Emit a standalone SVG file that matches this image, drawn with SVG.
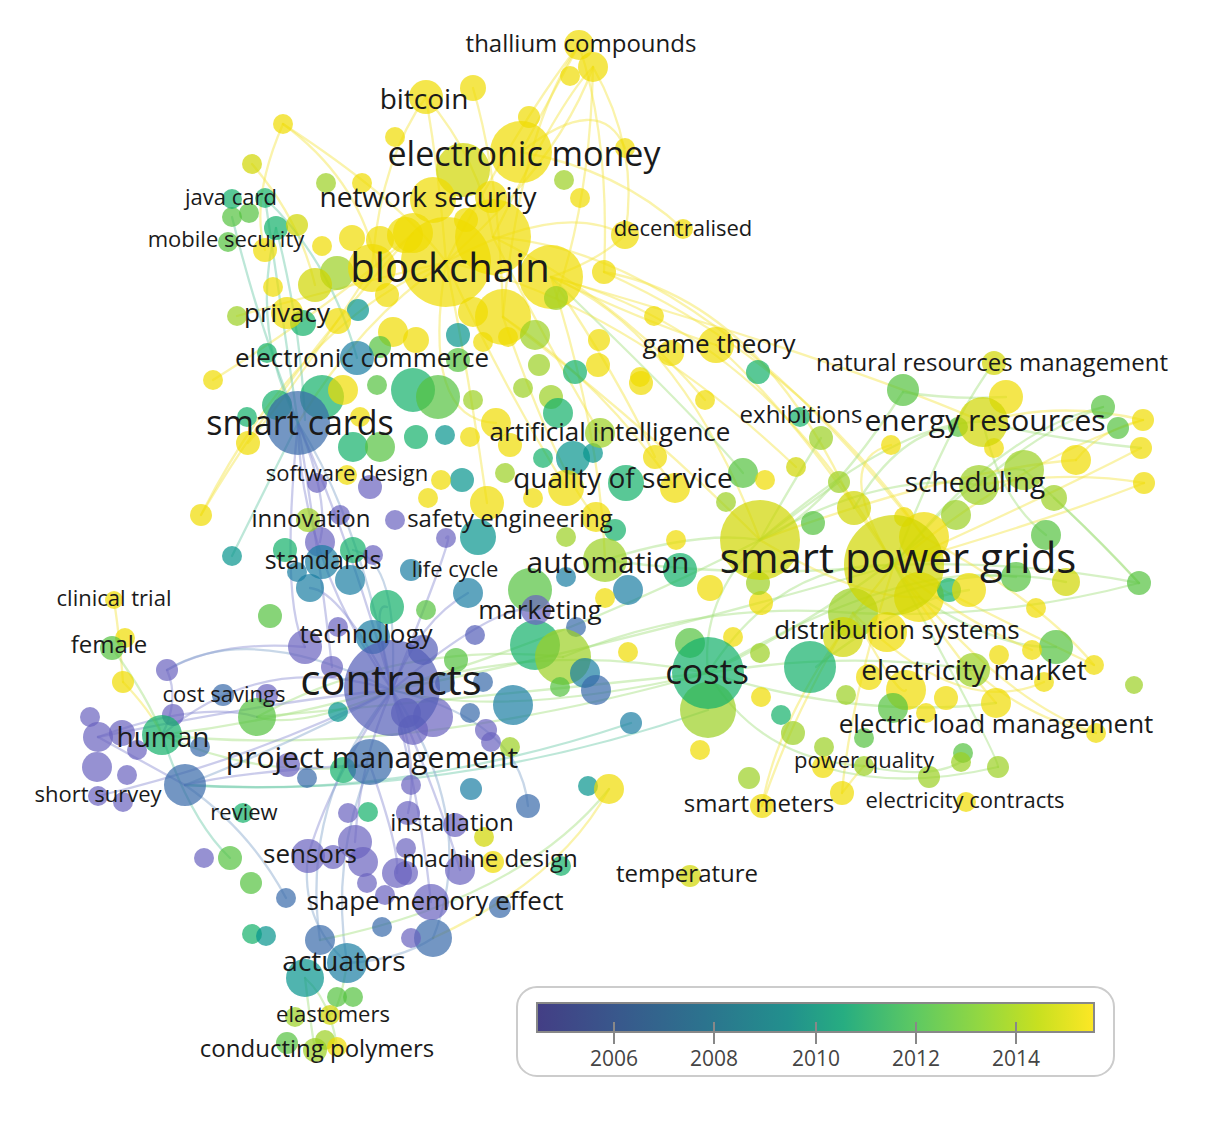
<svg xmlns="http://www.w3.org/2000/svg" width="1208" height="1136" viewBox="0 0 1208 1136">
<style>
.c{fill-opacity:.7}
.y{fill:#efdc00}.yg{fill:#d0d600}.lg{fill:#9bd022}.g{fill:#54c23e}.gt{fill:#13b069}.t{fill:#05948d}.tb{fill:#1a7ea2}.b{fill:#3769a9}.bp{fill:#545eb8}.p{fill:#6962bf}
.e{fill:none;stroke-width:2.3;stroke-opacity:.45;stroke-linecap:round}
.ey{stroke:#f3e545}.eg{stroke:#a3df7e}.et{stroke:#6cc9a8}.ep{stroke:#8c8fd2}.eb{stroke:#86a6cc}
.l{font-family:"Open Sans","Liberation Sans",sans-serif;fill:#1a1a1a;text-anchor:middle}
.s42{font-size:42px}.s40{font-size:40px}.s35{font-size:35px}.s34{font-size:34px}.s30{font-size:30px}.s28{font-size:28px}.s26{font-size:26px}.s25{font-size:25px}.s24{font-size:24px}.s22{font-size:22px}
.lt{font-family:"Open Sans","Liberation Sans",sans-serif;font-size:21px;fill:#444;text-anchor:middle}
</style>
<defs>
<linearGradient id="vir" x1="0" y1="0" x2="1" y2="0">
<stop offset="0" stop-color="#433e85"/><stop offset="0.15" stop-color="#38598c"/><stop offset="0.3" stop-color="#2c738e"/><stop offset="0.45" stop-color="#22908d"/><stop offset="0.55" stop-color="#27ad81"/><stop offset="0.68" stop-color="#5ec962"/><stop offset="0.8" stop-color="#95d840"/><stop offset="0.9" stop-color="#c8e020"/><stop offset="1" stop-color="#fde725"/>
</linearGradient>
</defs>
<rect width="1208" height="1136" fill="#fff"/>
<g id="connectors">
<path class="e ey" d="M446,262 Q520,120 579,45"/>
<path class="e ey" d="M493,237 Q560,100 593,67"/>
<path class="e ey" d="M521,152 Q560,80 579,45"/>
<path class="e ey" d="M446,262 Q560,160 593,67"/>
<path class="e ey" d="M593,67 Q590,200 556,298"/>
<path class="e ey" d="M579,45 Q520,130 503,317"/>
<path class="e ey" d="M283,124 Q360,180 377,267"/>
<path class="e ey" d="M283,124 Q400,200 446,262"/>
<path class="e ey" d="M551,277 Q640,320 716,345"/>
<path class="e ey" d="M551,277 Q680,330 760,540"/>
<path class="e ey" d="M503,317 Q640,420 760,540"/>
<path class="e ey" d="M625,235 Q600,260 551,277"/>
<path class="e ey" d="M446,262 Q300,320 201,515"/>
<path class="e ey" d="M413,233 Q280,380 201,515"/>
<path class="e ey" d="M446,262 Q360,320 298,423"/>
<path class="e ey" d="M551,277 Q760,330 894,565"/>
<path class="e ey" d="M604,272 Q800,360 924,537"/>
<path class="e ey" d="M716,345 Q800,420 894,565"/>
<path class="e ey" d="M493,237 Q620,300 705,400"/>
<path class="e ey" d="M446,262 Q500,380 566,488"/>
<path class="e ey" d="M493,237 Q550,350 600,433"/>
<path class="e ey" d="M551,277 Q620,380 655,457"/>
<path class="e ey" d="M426,97 Q440,180 446,262"/>
<path class="e ey" d="M426,97 Q480,160 493,237"/>
<path class="e ey" d="M473,88 Q500,180 503,317"/>
<path class="e ey" d="M426,97 Q380,160 372,268"/>
<path class="e ey" d="M551,277 Q600,430 605,560"/>
<path class="e ey" d="M521,152 Q620,170 683,229"/>
<path class="e ey" d="M446,262 Q420,420 496,423"/>
<path class="e ey" d="M521,152 Q600,90 625,148"/>
<path class="e ey" d="M446,262 Q560,200 625,235"/>
<path class="e ey" d="M503,317 Q600,380 675,488"/>
<path class="e eg" d="M551,277 Q700,420 743,473"/>
<path class="e ey" d="M446,262 Q620,300 796,467"/>
<path class="e ey" d="M493,237 Q700,250 924,537"/>
<path class="e ey" d="M551,277 Q840,360 983,422"/>
<path class="e ey" d="M604,272 Q760,300 854,508"/>
<path class="e ey" d="M503,317 Q560,480 596,517"/>
<path class="e ey" d="M446,262 Q470,380 487,503"/>
<path class="e ey" d="M283,124 Q250,200 265,250"/>
<path class="e ey" d="M252,164 Q300,220 315,285"/>
<path class="e ey" d="M446,262 Q330,290 237,316"/>
<path class="e ey" d="M372,268 Q300,380 248,443"/>
<path class="e ey" d="M413,233 Q340,300 213,380"/>
<path class="e ey" d="M593,67 Q640,150 625,235"/>
<path class="e ey" d="M579,45 Q610,140 604,272"/>
<path class="e eg" d="M894,565 Q950,420 994,363"/>
<path class="e eg" d="M894,565 Q1000,430 1103,407"/>
<path class="e ey" d="M894,565 Q1020,460 1143,420"/>
<path class="e ey" d="M894,565 Q1040,500 1141,448"/>
<path class="e ey" d="M894,565 Q1050,520 1144,483"/>
<path class="e eg" d="M894,565 Q1020,560 1139,583"/>
<path class="e eg" d="M760,540 Q900,420 983,422"/>
<path class="e eg" d="M760,540 Q880,470 979,485"/>
<path class="e ey" d="M894,565 Q1000,620 1094,665"/>
<path class="e eg" d="M853,613 Q1000,620 1139,583"/>
<path class="e ey" d="M894,565 Q950,650 996,703"/>
<path class="e ey" d="M894,565 Q1000,700 1096,733"/>
<path class="e eg" d="M760,540 Q820,520 903,392"/>
<path class="e eg" d="M903,392 Q950,400 1006,397"/>
<path class="e ey" d="M983,422 Q1060,400 1143,420"/>
<path class="e eg" d="M983,422 Q1060,440 1141,448"/>
<path class="e ey" d="M979,485 Q1070,470 1144,483"/>
<path class="e eg" d="M708,673 Q780,560 894,565"/>
<path class="e eg" d="M708,673 Q820,620 924,537"/>
<path class="e eg" d="M708,673 Q850,650 973,670"/>
<path class="e eg" d="M708,673 Q860,720 996,703"/>
<path class="e eg" d="M708,673 Q760,760 864,766"/>
<path class="e eg" d="M760,540 Q700,600 708,673"/>
<path class="e eg" d="M605,560 Q700,530 760,540"/>
<path class="e eg" d="M605,560 Q750,580 894,565"/>
<path class="e eg" d="M563,657 Q700,600 853,613"/>
<path class="e ey" d="M894,565 Q850,700 842,793"/>
<path class="e ey" d="M894,565 Q780,700 762,806"/>
<path class="e eg" d="M1054,498 Q1100,540 1139,583"/>
<path class="e eg" d="M983,422 Q1000,500 1046,535"/>
<path class="e eg" d="M1024,470 Q1080,520 1139,583"/>
<path class="e ey" d="M1076,460 Q1100,430 1143,420"/>
<path class="e eg" d="M979,485 Q1040,430 1103,407"/>
<path class="e eg" d="M894,565 Q980,460 1024,470"/>
<path class="e ey" d="M760,540 Q950,470 1076,460"/>
<path class="e eg" d="M853,613 Q960,560 1066,582"/>
<path class="e ey" d="M924,537 Q1040,600 1094,665"/>
<path class="e eg" d="M919,597 Q1000,650 1056,647"/>
<path class="e ey" d="M894,565 Q960,620 1032,650"/>
<path class="e eg" d="M816,667 Q900,600 969,590"/>
<path class="e ey" d="M760,540 Q860,600 919,597"/>
<path class="e eg" d="M708,673 Q900,560 1016,577"/>
<path class="e ey" d="M853,613 Q900,700 906,690"/>
<path class="e eg" d="M894,565 Q1000,760 998,767"/>
<path class="e ey" d="M973,670 Q1030,720 1096,733"/>
<path class="e ey" d="M853,613 Q960,720 1044,682"/>
<path class="e eg" d="M854,508 Q900,430 958,427"/>
<path class="e eg" d="M760,540 Q800,470 821,438"/>
<path class="e eg" d="M760,540 Q800,510 839,482"/>
<path class="e ey" d="M894,565 Q830,460 891,445"/>
<path class="e eg" d="M708,673 Q540,640 392,690"/>
<path class="e eg" d="M708,673 Q500,720 392,690"/>
<path class="e eg" d="M708,673 Q400,760 162,735"/>
<path class="e eg" d="M708,673 Q450,700 257,717"/>
<path class="e eg" d="M563,657 Q400,640 257,717"/>
<path class="e et" d="M708,710 Q450,800 185,785"/>
<path class="e eg" d="M760,540 Q450,700 162,735"/>
<path class="e et" d="M631,723 Q400,800 185,785"/>
<path class="e eg" d="M894,565 Q600,650 392,690"/>
<path class="e ep" d="M392,690 Q300,560 298,423"/>
<path class="e ep" d="M392,690 Q350,540 298,423"/>
<path class="e ep" d="M392,690 Q260,650 162,735"/>
<path class="e ep" d="M392,690 Q280,700 98,737"/>
<path class="e ep" d="M392,690 Q250,760 98,796"/>
<path class="e ep" d="M392,690 Q330,780 308,856"/>
<path class="e ep" d="M392,690 Q420,800 431,902"/>
<path class="e eb" d="M392,690 Q300,800 320,940"/>
<path class="e eb" d="M392,690 Q480,820 433,938"/>
<path class="e ep" d="M298,423 Q280,600 305,647"/>
<path class="e ep" d="M298,423 Q320,560 332,667"/>
<path class="e eb" d="M298,423 Q360,520 392,690"/>
<path class="e eb" d="M370,765 Q330,860 347,963"/>
<path class="e eb" d="M308,856 Q300,920 347,963"/>
<path class="e eb" d="M433,938 Q400,960 347,963"/>
<path class="e ep" d="M392,690 Q500,600 536,610"/>
<path class="e ep" d="M392,690 Q420,620 468,593"/>
<path class="e ep" d="M305,647 Q220,640 167,670"/>
<path class="e eb" d="M392,690 Q250,620 167,670"/>
<path class="e eb" d="M185,785 Q300,740 392,690"/>
<path class="e ep" d="M392,690 Q460,520 446,538"/>
<path class="e ep" d="M392,690 Q370,600 387,607"/>
<path class="e ep" d="M392,690 Q340,590 310,588"/>
<path class="e eb" d="M392,690 Q400,560 353,550"/>
<path class="e et" d="M298,423 Q240,540 232,556"/>
<path class="e ep" d="M298,423 Q330,500 320,542"/>
<path class="e ep" d="M392,690 Q420,760 408,813"/>
<path class="e ep" d="M392,690 Q440,800 460,870"/>
<path class="e ep" d="M392,690 Q360,760 355,842"/>
<path class="e ep" d="M370,765 Q400,850 397,873"/>
<path class="e eb" d="M392,690 Q520,720 528,806"/>
<path class="e eg" d="M392,690 Q300,730 257,717"/>
<path class="e eb" d="M185,785 Q250,830 286,898"/>
<path class="e eg" d="M162,735 Q260,780 370,765"/>
<path class="e ep" d="M98,737 Q200,700 257,717"/>
<path class="e et" d="M265,198 Q280,300 298,423"/>
<path class="e et" d="M276,228 Q250,330 298,423"/>
<path class="e et" d="M232,217 Q260,330 298,423"/>
<path class="e et" d="M265,198 Q330,260 357,358"/>
<path class="e et" d="M276,228 Q300,320 305,420"/>
<path class="e ey" d="M609,789 Q560,880 433,938"/>
<path class="e eg" d="M609,789 Q520,900 320,940"/>
<path class="e et" d="M162,735 Q190,820 230,858"/>
<path class="e ep" d="M162,735 Q180,700 167,670"/>
<path class="e ey" d="M123,682 Q120,640 114,600"/>
<path class="e eg" d="M112,648 Q150,700 162,735"/>
<path class="e ey" d="M123,682 Q150,710 162,735"/>
<path class="e eg" d="M305,978 Q310,1020 315,1050"/>
<path class="e eg" d="M347,963 Q340,1010 330,1015"/>
<path class="e eg" d="M305,978 Q330,1000 337,1047"/>
<path class="e ey" d="M762,806 Q790,720 853,613"/>
<path class="e eg" d="M823,767 Q900,790 998,767"/>
<path class="e eg" d="M864,766 Q930,780 961,762"/>
<path class="e ey" d="M842,793 Q860,770 864,766"/>
<path class="e ep" d="M98,737 Q140,760 185,785"/>
<path class="e ep" d="M370,765 Q250,770 185,785"/>
</g>
<g id="nodes">
<g id="n1"><circle class="c y" cx="283" cy="124" r="10"/></g>
<g id="n2"><circle class="c yg" cx="252" cy="164" r="10"/></g>
<g id="n3"><circle class="c lg" cx="326" cy="183" r="10"/></g>
<g id="n4"><circle class="c y" cx="362" cy="183" r="10"/></g>
<g id="n5"><circle class="c y" cx="395" cy="137" r="10"/></g>
<g id="n6"><circle class="c gt" cx="265" cy="198" r="10"/></g>
<g id="n7"><circle class="c g" cx="232" cy="217" r="10"/></g>
<g id="n8"><circle class="c g" cx="249" cy="213" r="10"/></g>
<g id="n9"><circle class="c gt" cx="276" cy="228" r="12"/></g>
<g id="n10"><circle class="c yg" cx="297" cy="225" r="11"/></g>
<g id="n11"><circle class="c y" cx="265" cy="250" r="12"/></g>
<g id="n12"><circle class="c y" cx="322" cy="246" r="10"/></g>
<g id="n13"><circle class="c y" cx="352" cy="238" r="13"/></g>
<g id="n14"><circle class="c y" cx="380" cy="240" r="14"/></g>
<g id="n15"><circle class="c lg" cx="337" cy="273" r="17"/></g>
<g id="n16"><circle class="c yg" cx="315" cy="285" r="17"/></g>
<g id="n17"><circle class="c y" cx="273" cy="287" r="10"/></g>
<g id="n18"><circle class="c y" cx="387" cy="295" r="12"/></g>
<g id="n19"><circle class="c t" cx="358" cy="310" r="11"/></g>
<g id="n20"><circle class="c lg" cx="237" cy="316" r="10"/></g>
<g id="n21"><circle class="c gt" cx="303" cy="323" r="13"/></g>
<g id="n22"><circle class="c y" cx="338" cy="321" r="13"/></g>
<g id="n23"><circle class="c y" cx="393" cy="332" r="15"/></g>
<g id="n24"><circle class="c gt" cx="267" cy="353" r="10"/></g>
<g id="n25"><circle class="c y" cx="213" cy="380" r="10"/></g>
<g id="n26"><circle class="c g" cx="380" cy="347" r="11"/></g>
<g id="n27"><circle class="c y" cx="372" cy="268" r="24"/></g>
<g id="n28"><circle class="c y" cx="405" cy="235" r="18"/></g>
<g id="n29"><circle class="c y" cx="593" cy="67" r="15"/></g>
<g id="n30"><circle class="c y" cx="570" cy="76" r="10"/></g>
<g id="n31"><circle class="c y" cx="473" cy="88" r="13"/></g>
<g id="n32"><circle class="c y" cx="529" cy="117" r="11"/></g>
<g id="n33"><circle class="c yg" cx="463" cy="170" r="27"/></g>
<g id="n34"><circle class="c y" cx="491" cy="197" r="16"/></g>
<g id="n35"><circle class="c y" cx="625" cy="148" r="10"/></g>
<g id="n36"><circle class="c lg" cx="564" cy="180" r="10"/></g>
<g id="n37"><circle class="c y" cx="580" cy="198" r="10"/></g>
<g id="n38"><circle class="c y" cx="683" cy="229" r="10"/></g>
<g id="n39"><circle class="c y" cx="604" cy="272" r="12"/></g>
<g id="n40"><circle class="c y" cx="493" cy="237" r="38"/></g>
<g id="n41"><circle class="c y" cx="551" cy="277" r="32"/></g>
<g id="n42"><circle class="c y" cx="503" cy="317" r="28"/></g>
<g id="n43"><circle class="c y" cx="473" cy="312" r="15"/></g>
<g id="n44"><circle class="c y" cx="413" cy="233" r="20"/></g>
<g id="n45"><circle class="c y" cx="466" cy="220" r="12"/></g>
<g id="n46"><circle class="c lg" cx="556" cy="298" r="12"/></g>
<g id="n47"><circle class="c t" cx="458" cy="335" r="12"/></g>
<g id="n48"><circle class="c y" cx="483" cy="342" r="10"/></g>
<g id="n49"><circle class="c y" cx="508" cy="337" r="10"/></g>
<g id="n50"><circle class="c lg" cx="535" cy="335" r="15"/></g>
<g id="n51"><circle class="c y" cx="416" cy="340" r="13"/></g>
<g id="n52"><circle class="c y" cx="599" cy="340" r="11"/></g>
<g id="n53"><circle class="c y" cx="654" cy="316" r="10"/></g>
<g id="n54"><circle class="c y" cx="671" cy="353" r="13"/></g>
<g id="n55"><circle class="c gt" cx="758" cy="372" r="12"/></g>
<g id="n56"><circle class="c y" cx="598" cy="365" r="12"/></g>
<g id="n57"><circle class="c lg" cx="539" cy="365" r="11"/></g>
<g id="n58"><circle class="c gt" cx="575" cy="372" r="12"/></g>
<g id="n59"><circle class="c g" cx="458" cy="360" r="12"/></g>
<g id="n60"><circle class="c y" cx="640" cy="377" r="10"/></g>
<g id="n61"><circle class="c g" cx="903" cy="390" r="16"/></g>
<g id="n62"><circle class="c gt" cx="277" cy="405" r="15"/></g>
<g id="n63"><circle class="c gt" cx="247" cy="417" r="10"/></g>
<g id="n64"><circle class="c y" cx="248" cy="443" r="12"/></g>
<g id="n65"><circle class="c gt" cx="322" cy="397" r="22"/></g>
<g id="n66"><circle class="c y" cx="343" cy="390" r="15"/></g>
<g id="n67"><circle class="c gt" cx="353" cy="447" r="15"/></g>
<g id="n68"><circle class="c g" cx="380" cy="447" r="15"/></g>
<g id="n69"><circle class="c g" cx="377" cy="385" r="10"/></g>
<g id="n70"><circle class="c y" cx="360" cy="417" r="10"/></g>
<g id="n71"><circle class="c p" cx="317" cy="483" r="10"/></g>
<g id="n72"><circle class="c p" cx="370" cy="487" r="12"/></g>
<g id="n73"><circle class="c y" cx="201" cy="515" r="11"/></g>
<g id="n74"><circle class="c p" cx="340" cy="515" r="10"/></g>
<g id="n75"><circle class="c p" cx="395" cy="520" r="10"/></g>
<g id="n76"><circle class="c t" cx="232" cy="556" r="10"/></g>
<g id="n77"><circle class="c gt" cx="285" cy="550" r="12"/></g>
<g id="n78"><circle class="c p" cx="320" cy="542" r="15"/></g>
<g id="n79"><circle class="c gt" cx="353" cy="550" r="13"/></g>
<g id="n80"><circle class="c p" cx="373" cy="555" r="10"/></g>
<g id="n81"><circle class="c tb" cx="297" cy="572" r="10"/></g>
<g id="n82"><circle class="c tb" cx="310" cy="588" r="14"/></g>
<g id="n83"><circle class="c tb" cx="350" cy="580" r="15"/></g>
<g id="n84"><circle class="c g" cx="270" cy="616" r="12"/></g>
<g id="n85"><circle class="c gt" cx="387" cy="607" r="17"/></g>
<g id="n86"><circle class="c p" cx="338" cy="627" r="10"/></g>
<g id="n87"><circle class="c p" cx="332" cy="667" r="11"/></g>
<g id="n88"><circle class="c tb" cx="373" cy="637" r="17"/></g>
<g id="n89"><circle class="c y" cx="125" cy="638" r="10"/></g>
<g id="n90"><circle class="c y" cx="123" cy="682" r="11"/></g>
<g id="n91"><circle class="c p" cx="167" cy="670" r="11"/></g>
<g id="n92"><circle class="c p" cx="267" cy="695" r="11"/></g>
<g id="n93"><circle class="c g" cx="257" cy="717" r="19"/></g>
<g id="n94"><circle class="c t" cx="338" cy="712" r="10"/></g>
<g id="n95"><circle class="c p" cx="173" cy="715" r="11"/></g>
<g id="n96"><circle class="c p" cx="90" cy="717" r="10"/></g>
<g id="n97"><circle class="c p" cx="98" cy="737" r="15"/></g>
<g id="n98"><circle class="c p" cx="122" cy="733" r="13"/></g>
<g id="n99"><circle class="c p" cx="137" cy="750" r="10"/></g>
<g id="n100"><circle class="c b" cx="200" cy="747" r="10"/></g>
<g id="n101"><circle class="c gt" cx="413" cy="390" r="22"/></g>
<g id="n102"><circle class="c g" cx="438" cy="397" r="22"/></g>
<g id="n103"><circle class="c lg" cx="473" cy="400" r="10"/></g>
<g id="n104"><circle class="c lg" cx="523" cy="388" r="10"/></g>
<g id="n105"><circle class="c lg" cx="551" cy="397" r="12"/></g>
<g id="n106"><circle class="c gt" cx="558" cy="413" r="15"/></g>
<g id="n107"><circle class="c y" cx="496" cy="423" r="15"/></g>
<g id="n108"><circle class="c y" cx="510" cy="445" r="12"/></g>
<g id="n109"><circle class="c y" cx="470" cy="437" r="10"/></g>
<g id="n110"><circle class="c gt" cx="416" cy="437" r="12"/></g>
<g id="n111"><circle class="c t" cx="445" cy="435" r="10"/></g>
<g id="n112"><circle class="c gt" cx="543" cy="458" r="10"/></g>
<g id="n113"><circle class="c t" cx="573" cy="458" r="17"/></g>
<g id="n114"><circle class="c t" cx="593" cy="453" r="10"/></g>
<g id="n115"><circle class="c y" cx="655" cy="457" r="12"/></g>
<g id="n116"><circle class="c y" cx="705" cy="400" r="10"/></g>
<g id="n117"><circle class="c y" cx="641" cy="383" r="12"/></g>
<g id="n118"><circle class="c gt" cx="626" cy="483" r="18"/></g>
<g id="n119"><circle class="c y" cx="675" cy="488" r="15"/></g>
<g id="n120"><circle class="c g" cx="743" cy="473" r="15"/></g>
<g id="n121"><circle class="c y" cx="765" cy="480" r="10"/></g>
<g id="n122"><circle class="c yg" cx="796" cy="467" r="10"/></g>
<g id="n123"><circle class="c lg" cx="726" cy="502" r="10"/></g>
<g id="n124"><circle class="c lg" cx="505" cy="473" r="10"/></g>
<g id="n125"><circle class="c t" cx="462" cy="480" r="12"/></g>
<g id="n126"><circle class="c y" cx="441" cy="480" r="10"/></g>
<g id="n127"><circle class="c y" cx="428" cy="498" r="10"/></g>
<g id="n128"><circle class="c y" cx="533" cy="498" r="10"/></g>
<g id="n129"><circle class="c y" cx="596" cy="517" r="15"/></g>
<g id="n130"><circle class="c gt" cx="615" cy="530" r="11"/></g>
<g id="n131"><circle class="c t" cx="478" cy="537" r="18"/></g>
<g id="n132"><circle class="c p" cx="446" cy="538" r="10"/></g>
<g id="n133"><circle class="c lg" cx="566" cy="537" r="10"/></g>
<g id="n134"><circle class="c y" cx="676" cy="540" r="10"/></g>
<g id="n135"><circle class="c gt" cx="680" cy="570" r="17"/></g>
<g id="n136"><circle class="c tb" cx="628" cy="590" r="15"/></g>
<g id="n137"><circle class="c tb" cx="566" cy="577" r="10"/></g>
<g id="n138"><circle class="c y" cx="605" cy="598" r="10"/></g>
<g id="n139"><circle class="c y" cx="710" cy="588" r="13"/></g>
<g id="n140"><circle class="c tb" cx="411" cy="570" r="11"/></g>
<g id="n141"><circle class="c g" cx="530" cy="590" r="22"/></g>
<g id="n142"><circle class="c g" cx="426" cy="610" r="10"/></g>
<g id="n143"><circle class="c b" cx="576" cy="627" r="10"/></g>
<g id="n144"><circle class="c bp" cx="475" cy="635" r="10"/></g>
<g id="n145"><circle class="c gt" cx="535" cy="645" r="25"/></g>
<g id="n146"><circle class="c lg" cx="563" cy="657" r="28"/></g>
<g id="n147"><circle class="c tb" cx="585" cy="673" r="15"/></g>
<g id="n148"><circle class="c b" cx="596" cy="690" r="15"/></g>
<g id="n149"><circle class="c g" cx="560" cy="687" r="10"/></g>
<g id="n150"><circle class="c tb" cx="513" cy="705" r="20"/></g>
<g id="n151"><circle class="c b" cx="470" cy="713" r="10"/></g>
<g id="n152"><circle class="c b" cx="483" cy="682" r="10"/></g>
<g id="n153"><circle class="c g" cx="456" cy="660" r="12"/></g>
<g id="n154"><circle class="c b" cx="445" cy="683" r="10"/></g>
<g id="n155"><circle class="c bp" cx="423" cy="650" r="15"/></g>
<g id="n156"><circle class="c tb" cx="631" cy="723" r="11"/></g>
<g id="n157"><circle class="c y" cx="628" cy="652" r="10"/></g>
<g id="n158"><circle class="c g" cx="690" cy="643" r="15"/></g>
<g id="n159"><circle class="c lg" cx="708" cy="710" r="28"/></g>
<g id="n160"><circle class="c y" cx="733" cy="637" r="10"/></g>
<g id="n161"><circle class="c lg" cx="760" cy="653" r="10"/></g>
<g id="n162"><circle class="c y" cx="761" cy="697" r="10"/></g>
<g id="n163"><circle class="c gt" cx="781" cy="715" r="10"/></g>
<g id="n164"><circle class="c lg" cx="793" cy="733" r="12"/></g>
<g id="n165"><circle class="c y" cx="700" cy="750" r="10"/></g>
<g id="n166"><circle class="c y" cx="761" cy="603" r="12"/></g>
<g id="n167"><circle class="c lg" cx="758" cy="583" r="12"/></g>
<g id="n168"><circle class="c yg" cx="760" cy="540" r="40"/></g>
<g id="n169"><circle class="c p" cx="486" cy="730" r="11"/></g>
<g id="n170"><circle class="c p" cx="491" cy="742" r="10"/></g>
<g id="n171"><circle class="c lg" cx="510" cy="747" r="10"/></g>
<g id="n172"><circle class="c p" cx="413" cy="730" r="15"/></g>
<g id="n173"><circle class="c p" cx="406" cy="713" r="15"/></g>
<g id="n174"><circle class="c p" cx="433" cy="717" r="20"/></g>
<g id="n175"><circle class="c y" cx="1006" cy="397" r="17"/></g>
<g id="n176"><circle class="c g" cx="958" cy="427" r="10"/></g>
<g id="n177"><circle class="c g" cx="1103" cy="407" r="12"/></g>
<g id="n178"><circle class="c g" cx="1118" cy="428" r="11"/></g>
<g id="n179"><circle class="c y" cx="1143" cy="420" r="11"/></g>
<g id="n180"><circle class="c y" cx="1141" cy="448" r="11"/></g>
<g id="n181"><circle class="c y" cx="1144" cy="483" r="11"/></g>
<g id="n182"><circle class="c y" cx="1076" cy="460" r="15"/></g>
<g id="n183"><circle class="c y" cx="994" cy="448" r="10"/></g>
<g id="n184"><circle class="c y" cx="891" cy="445" r="10"/></g>
<g id="n185"><circle class="c lg" cx="821" cy="438" r="12"/></g>
<g id="n186"><circle class="c lg" cx="839" cy="482" r="11"/></g>
<g id="n187"><circle class="c yg" cx="854" cy="508" r="17"/></g>
<g id="n188"><circle class="c lg" cx="1024" cy="470" r="20"/></g>
<g id="n189"><circle class="c lg" cx="1054" cy="498" r="13"/></g>
<g id="n190"><circle class="c lg" cx="956" cy="515" r="15"/></g>
<g id="n191"><circle class="c y" cx="904" cy="517" r="10"/></g>
<g id="n192"><circle class="c g" cx="1046" cy="535" r="15"/></g>
<g id="n193"><circle class="c g" cx="813" cy="523" r="12"/></g>
<g id="n194"><circle class="c y" cx="924" cy="537" r="25"/></g>
<g id="n195"><circle class="c y" cx="919" cy="597" r="25"/></g>
<g id="n196"><circle class="c gt" cx="949" cy="590" r="12"/></g>
<g id="n197"><circle class="c y" cx="969" cy="590" r="17"/></g>
<g id="n198"><circle class="c g" cx="1016" cy="577" r="15"/></g>
<g id="n199"><circle class="c yg" cx="1066" cy="582" r="14"/></g>
<g id="n200"><circle class="c g" cx="1139" cy="583" r="12"/></g>
<g id="n201"><circle class="c y" cx="1036" cy="608" r="10"/></g>
<g id="n202"><circle class="c lg" cx="853" cy="613" r="25"/></g>
<g id="n203"><circle class="c g" cx="1056" cy="647" r="17"/></g>
<g id="n204"><circle class="c y" cx="1032" cy="650" r="10"/></g>
<g id="n205"><circle class="c y" cx="999" cy="655" r="10"/></g>
<g id="n206"><circle class="c y" cx="1094" cy="665" r="10"/></g>
<g id="n207"><circle class="c lg" cx="1134" cy="685" r="9"/></g>
<g id="n208"><circle class="c y" cx="1044" cy="682" r="10"/></g>
<g id="n209"><circle class="c gt" cx="810" cy="667" r="26"/></g>
<g id="n210"><circle class="c y" cx="869" cy="677" r="13"/></g>
<g id="n211"><circle class="c y" cx="906" cy="690" r="20"/></g>
<g id="n212"><circle class="c y" cx="946" cy="698" r="12"/></g>
<g id="n213"><circle class="c lg" cx="846" cy="695" r="10"/></g>
<g id="n214"><circle class="c g" cx="893" cy="708" r="15"/></g>
<g id="n215"><circle class="c y" cx="926" cy="713" r="10"/></g>
<g id="n216"><circle class="c y" cx="1096" cy="733" r="10"/></g>
<g id="n217"><circle class="c g" cx="864" cy="738" r="10"/></g>
<g id="n218"><circle class="c lg" cx="824" cy="747" r="10"/></g>
<g id="n219"><circle class="c g" cx="963" cy="753" r="10"/></g>
<g id="n220"><circle class="c y" cx="823" cy="767" r="11"/></g>
<g id="n221"><circle class="c lg" cx="929" cy="777" r="11"/></g>
<g id="n222"><circle class="c lg" cx="961" cy="762" r="10"/></g>
<g id="n223"><circle class="c lg" cx="998" cy="767" r="11"/></g>
<g id="n224"><circle class="c y" cx="842" cy="793" r="12"/></g>
<g id="n225"><circle class="c lg" cx="749" cy="778" r="11"/></g>
<g id="n226"><circle class="c p" cx="97" cy="767" r="15"/></g>
<g id="n227"><circle class="c p" cx="127" cy="775" r="10"/></g>
<g id="n228"><circle class="c p" cx="123" cy="802" r="10"/></g>
<g id="n229"><circle class="c b" cx="185" cy="785" r="21"/></g>
<g id="n230"><circle class="c p" cx="204" cy="858" r="10"/></g>
<g id="n231"><circle class="c g" cx="230" cy="858" r="12"/></g>
<g id="n232"><circle class="c g" cx="251" cy="883" r="11"/></g>
<g id="n233"><circle class="c b" cx="286" cy="898" r="10"/></g>
<g id="n234"><circle class="c gt" cx="252" cy="934" r="10"/></g>
<g id="n235"><circle class="c t" cx="266" cy="936" r="10"/></g>
<g id="n236"><circle class="c p" cx="355" cy="842" r="17"/></g>
<g id="n237"><circle class="c p" cx="363" cy="862" r="15"/></g>
<g id="n238"><circle class="c p" cx="333" cy="857" r="12"/></g>
<g id="n239"><circle class="c p" cx="348" cy="813" r="10"/></g>
<g id="n240"><circle class="c gt" cx="368" cy="812" r="10"/></g>
<g id="n241"><circle class="c p" cx="367" cy="883" r="10"/></g>
<g id="n242"><circle class="c p" cx="385" cy="895" r="10"/></g>
<g id="n243"><circle class="c p" cx="397" cy="873" r="15"/></g>
<g id="n244"><circle class="c b" cx="382" cy="927" r="10"/></g>
<g id="n245"><circle class="c b" cx="320" cy="940" r="15"/></g>
<g id="n246"><circle class="c t" cx="305" cy="978" r="19"/></g>
<g id="n247"><circle class="c g" cx="337" cy="997" r="10"/></g>
<g id="n248"><circle class="c g" cx="353" cy="997" r="10"/></g>
<g id="n249"><circle class="c lg" cx="295" cy="1017" r="10"/></g>
<g id="n250"><circle class="c g" cx="287" cy="1043" r="11"/></g>
<g id="n251"><circle class="c lg" cx="325" cy="1040" r="10"/></g>
<g id="n252"><circle class="c y" cx="337" cy="1047" r="10"/></g>
<g id="n253"><circle class="c p" cx="411" cy="785" r="10"/></g>
<g id="n254"><circle class="c tb" cx="471" cy="789" r="11"/></g>
<g id="n255"><circle class="c b" cx="528" cy="806" r="12"/></g>
<g id="n256"><circle class="c t" cx="588" cy="786" r="10"/></g>
<g id="n257"><circle class="c y" cx="609" cy="789" r="15"/></g>
<g id="n258"><circle class="c p" cx="408" cy="813" r="12"/></g>
<g id="n259"><circle class="c yg" cx="484" cy="837" r="10"/></g>
<g id="n260"><circle class="c p" cx="406" cy="848" r="10"/></g>
<g id="n261"><circle class="c p" cx="460" cy="870" r="15"/></g>
<g id="n262"><circle class="c gt" cx="561" cy="866" r="10"/></g>
<g id="n263"><circle class="c p" cx="406" cy="873" r="12"/></g>
<g id="n264"><circle class="c b" cx="500" cy="907" r="11"/></g>
<g id="n265"><circle class="c b" cx="433" cy="938" r="19"/></g>
<g id="n266"><circle class="c p" cx="411" cy="938" r="10"/></g>
<g id="n267"><circle class="c b" cx="307" cy="778" r="10"/></g>
<g id="n268"><circle class="c gt" cx="343" cy="770" r="13"/></g>
<g id="n269"><circle class="c p" cx="288" cy="765" r="12"/></g>
<g id="n270"><circle class="c y" cx="887" cy="632" r="20"/></g>
</g>
<g id="labeled-nodes">
<g id="smart-power-grids"><circle class="c yg" cx="894" cy="565" r="50"/><text class="l s42" x="898" y="573">smart power grids</text></g>
<g id="contracts"><circle class="c bp" cx="392" cy="688" r="48"/><text class="l s42" x="391" y="695">contracts</text></g>
<g id="blockchain"><circle class="c y" cx="446" cy="262" r="45"/><text class="l s40" x="450" y="282">blockchain</text></g>
<g id="costs"><circle class="c gt" cx="708" cy="673" r="36"/><text class="l s35" x="707" y="684">costs</text></g>
<g id="smart-cards"><circle class="c b" cx="298" cy="423" r="32"/><text class="l s34" x="300" y="435">smart cards</text></g>
<g id="electronic-money"><circle class="c y" cx="521" cy="152" r="31"/><text class="l s34" x="524" y="166">electronic money</text></g>
<g id="energy-resources"><circle class="c yg" cx="983" cy="422" r="25"/><text class="l s30" x="985" y="431">energy resources</text></g>
<g id="network-security"><circle class="c y" cx="433" cy="200" r="23"/><text class="l s28" x="428" y="207">network security</text></g>
<g id="automation"><circle class="c lg" cx="605" cy="560" r="22"/><text class="l s30" x="608" y="573">automation</text></g>
<g id="project-management"><circle class="c b" cx="370" cy="762" r="23"/><text class="l s30" x="372" y="768">project management</text></g>
<g id="human"><circle class="c gt" cx="162" cy="735" r="20"/><text class="l s28" x="163" y="747">human</text></g>
<g id="scheduling"><circle class="c lg" cx="979" cy="485" r="20"/><text class="l s28" x="975" y="492">scheduling</text></g>
<g id="actuators"><circle class="c tb" cx="347" cy="963" r="20"/><text class="l s28" x="344" y="971">actuators</text></g>
<g id="distribution-systems"><circle class="c yg" cx="843" cy="637" r="20"/><text class="l s26" x="897" y="639">distribution systems</text></g>
<g id="game-theory"><circle class="c y" cx="716" cy="345" r="18"/><text class="l s26" x="719" y="353">game theory</text></g>
<g id="quality-of-service"><circle class="c y" cx="566" cy="488" r="18"/><text class="l s28" x="623" y="488">quality of service</text></g>
<g id="shape-memory-effect"><circle class="c p" cx="431" cy="902" r="18"/><text class="l s26" x="435" y="910">shape memory effect</text></g>
<g id="bitcoin"><circle class="c y" cx="426" cy="97" r="17"/><text class="l s28" x="424" y="109">bitcoin</text></g>
<g id="electronic-commerce"><circle class="c tb" cx="357" cy="358" r="17"/><text class="l s26" x="362" y="367">electronic commerce</text></g>
<g id="standards"><circle class="c tb" cx="322" cy="562" r="17"/><text class="l s25" x="323" y="569">standards</text></g>
<g id="technology"><circle class="c p" cx="305" cy="647" r="17"/><text class="l s26" x="366" y="643">technology</text></g>
<g id="electricity-market"><circle class="c lg" cx="973" cy="670" r="17"/><text class="l s28" x="974" y="680">electricity market</text></g>
<g id="sensors"><circle class="c p" cx="308" cy="856" r="17"/><text class="l s26" x="310" y="863">sensors</text></g>
<g id="safety-engineering"><circle class="c y" cx="487" cy="503" r="17"/><text class="l s24" x="510" y="527">safety engineering</text></g>
<g id="privacy"><circle class="c y" cx="287" cy="313" r="16"/><text class="l s26" x="287" y="322">privacy</text></g>
<g id="thallium-compounds"><circle class="c y" cx="579" cy="45" r="15"/><text class="l s24" x="581" y="52">thallium compounds</text></g>
<g id="artificial-intelligence"><circle class="c lg" cx="600" cy="433" r="15"/><text class="l s26" x="610" y="441">artificial intelligence</text></g>
<g id="marketing"><circle class="c p" cx="536" cy="610" r="15"/><text class="l s26" x="540" y="619">marketing</text></g>
<g id="electric-load-management"><circle class="c y" cx="996" cy="703" r="15"/><text class="l s26" x="996" y="733">electric load management</text></g>
<g id="life-cycle"><circle class="c tb" cx="468" cy="593" r="15"/><text class="l s22" x="455" y="577">life cycle</text></g>
<g id="decentralised"><circle class="c y" cx="625" cy="235" r="14"/><text class="l s22" x="683" y="236">decentralised</text></g>
<g id="natural-resources-management"><circle class="c yg" cx="994" cy="363" r="12"/><text class="l s24" x="992" y="371">natural resources management</text></g>
<g id="innovation"><circle class="c lg" cx="308" cy="520" r="12"/><text class="l s24" x="311" y="527">innovation</text></g>
<g id="female"><circle class="c g" cx="112" cy="648" r="12"/><text class="l s24" x="109" y="653">female</text></g>
<g id="smart-meters"><circle class="c y" cx="762" cy="806" r="12"/><text class="l s24" x="759" y="812">smart meters</text></g>
<g id="installation"><circle class="c p" cx="455" cy="825" r="12"/><text class="l s24" x="452" y="831">installation</text></g>
<g id="conducting-polymers"><circle class="c lg" cx="315" cy="1050" r="12"/><text class="l s24" x="317" y="1057">conducting polymers</text></g>
<g id="cost-savings"><circle class="c b" cx="223" cy="695" r="11"/><text class="l s22" x="224" y="702">cost savings</text></g>
<g id="machine-design"><circle class="c y" cx="493" cy="862" r="11"/><text class="l s24" x="490" y="867">machine design</text></g>
<g id="temperature"><circle class="c yg" cx="690" cy="876" r="11"/><text class="l s24" x="687" y="882">temperature</text></g>
<g id="exhibitions"><circle class="c gt" cx="800" cy="417" r="10"/><text class="l s24" x="801" y="423">exhibitions</text></g>
<g id="java-card"><circle class="c gt" cx="232" cy="199" r="10"/><text class="l s22" x="231" y="205">java card</text></g>
<g id="mobile-security"><circle class="c g" cx="228" cy="242" r="10"/><text class="l s22" x="226" y="247">mobile security</text></g>
<g id="software-design"><circle class="c y" cx="347" cy="475" r="10"/><text class="l s22" x="347" y="481">software design</text></g>
<g id="power-quality"><circle class="c lg" cx="864" cy="766" r="10"/><text class="l s22" x="864" y="768">power quality</text></g>
<g id="short-survey"><circle class="c p" cx="98" cy="796" r="10"/><text class="l s22" x="98" y="802">short survey</text></g>
<g id="review"><circle class="c gt" cx="243" cy="813" r="10"/><text class="l s22" x="244" y="820">review</text></g>
<g id="electricity-contracts"><circle class="c y" cx="966" cy="802" r="10"/><text class="l s22" x="965" y="808">electricity contracts</text></g>
<g id="elastomers"><circle class="c yg" cx="330" cy="1015" r="10"/><text class="l s22" x="333" y="1022">elastomers</text></g>
<g id="clinical-trial"><circle class="c y" cx="114" cy="600" r="9"/><text class="l s22" x="114" y="606">clinical trial</text></g>
</g>
<g id="legend">
<rect x="517" y="987" width="597" height="89" rx="20" fill="#fff" stroke="#cccccc" stroke-width="2"/>
<rect x="537" y="1003" width="557" height="29" fill="url(#vir)" stroke="#888" stroke-width="2"/>
<g stroke="#888" stroke-width="2">
<line x1="614" y1="1022" x2="614" y2="1044"/><line x1="714" y1="1022" x2="714" y2="1044"/><line x1="816" y1="1022" x2="816" y2="1044"/><line x1="916" y1="1022" x2="916" y2="1044"/><line x1="1016" y1="1022" x2="1016" y2="1044"/>
</g>
<text class="lt" x="614" y="1066">2006</text><text class="lt" x="714" y="1066">2008</text><text class="lt" x="816" y="1066">2010</text><text class="lt" x="916" y="1066">2012</text><text class="lt" x="1016" y="1066">2014</text>
</g>
</svg>
